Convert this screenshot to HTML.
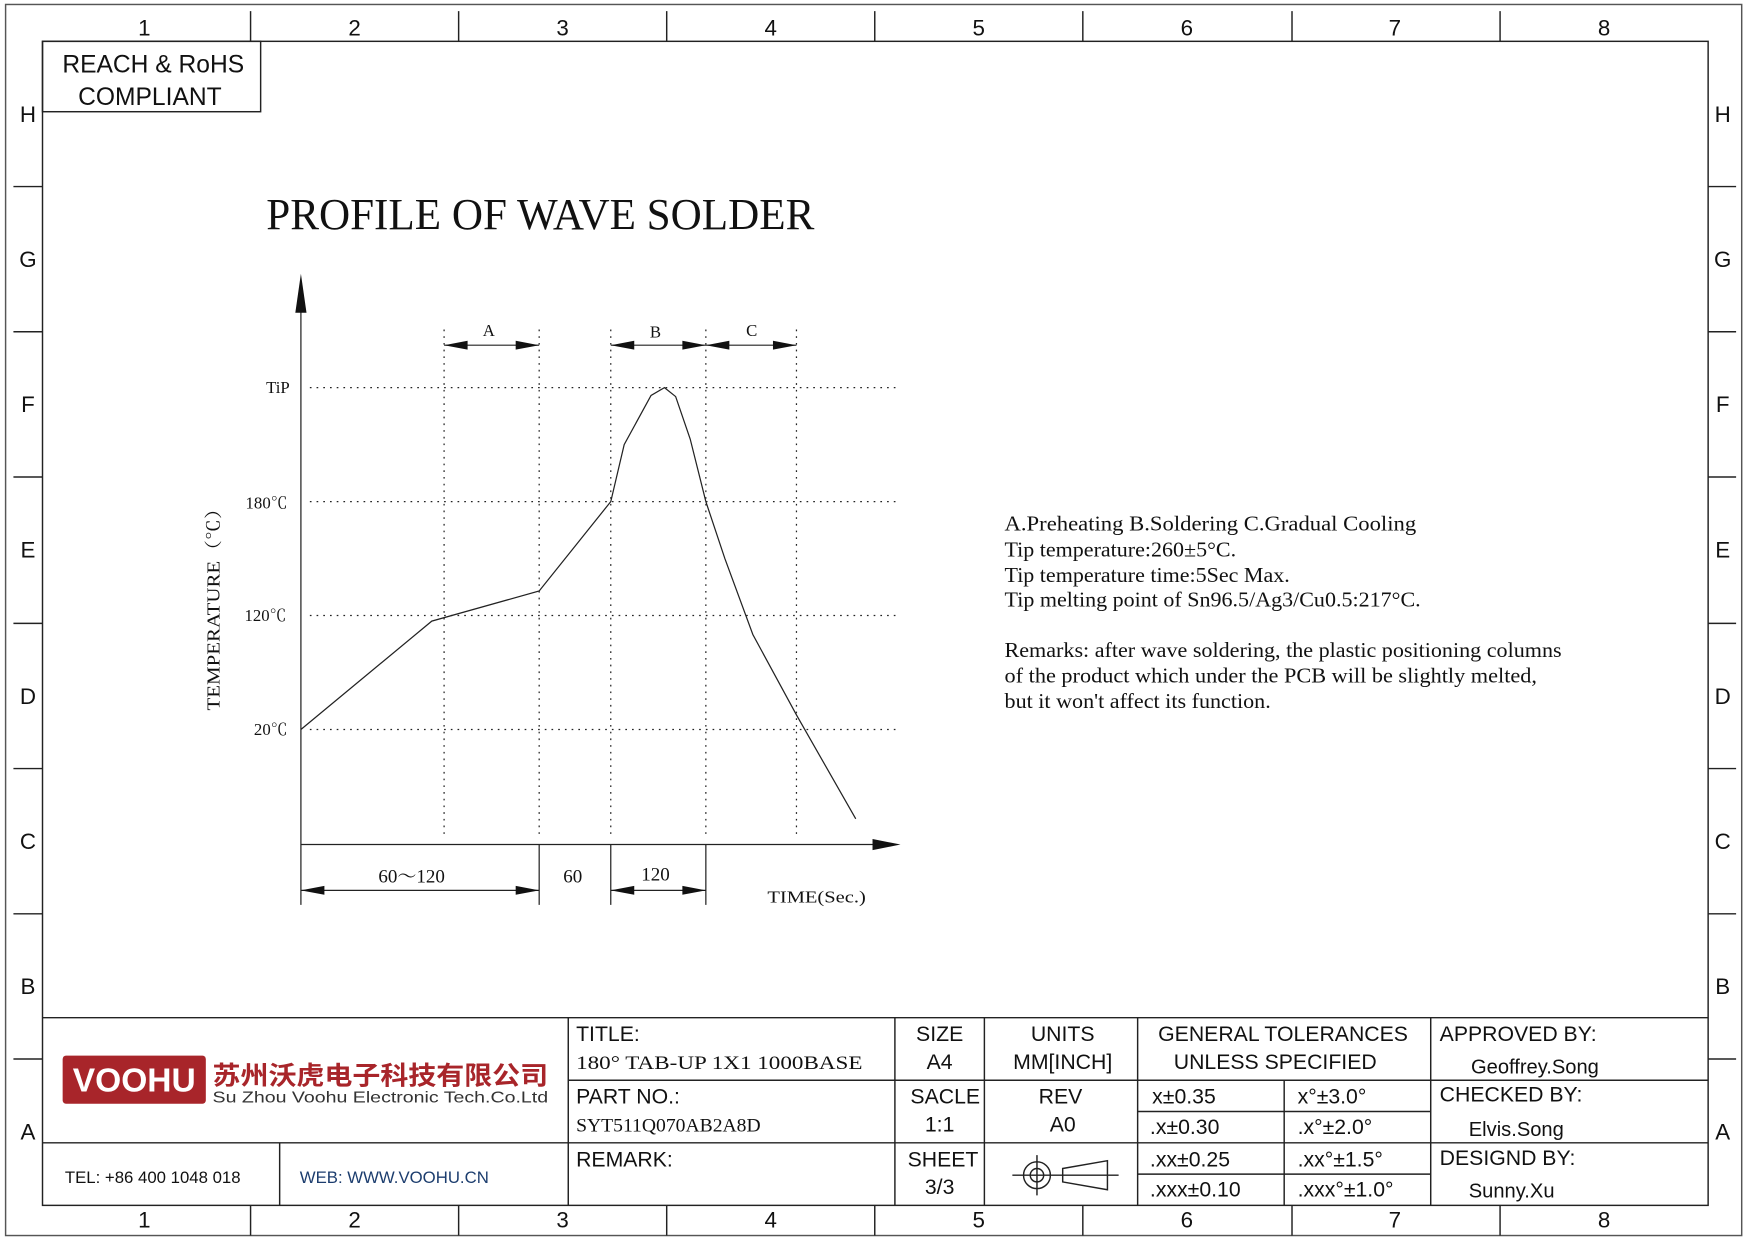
<!DOCTYPE html>
<html><head><meta charset="utf-8"><style>
html,body{margin:0;padding:0;background:#fff;}
svg{display:block;}
.s{font-family:"Liberation Sans","Noto Sans CJK SC",sans-serif;}
.r{font-family:"Liberation Serif","Noto Serif CJK SC",serif;}
</style></head><body>
<svg width="1754" height="1240" viewBox="0 0 1568 1110" preserveAspectRatio="none" xmlns="http://www.w3.org/2000/svg">
<rect x="0" y="0" width="1568" height="1110" fill="#fff"/>
<g fill="none" stroke="#222" stroke-width="1.3">
<rect x="5" y="4" width="1552" height="1102" stroke="#555"/>
<rect x="38" y="37" width="1489" height="1042"/>
<path d="M224 10V37M410 10V37M596 10V37M782 10V37M968 10V37M1155 10V37M1341 10V37"/>
<path d="M224 1079V1106M410 1079V1106M596 1079V1106M782 1079V1106M968 1079V1106M1155 1079V1106M1341 1079V1106"/>
<path d="M12 167H38M12 297H38M12 427H38M12 558H38M12 688H38M12 818H38M12 948H38"/>
<path d="M1527 167H1552M1527 297H1552M1527 427H1552M1527 558H1552M1527 688H1552M1527 818H1552M1527 948H1552"/>
<rect x="38" y="37" width="195" height="63"/>
</g>
<g class="s" font-size="20" fill="#111" text-anchor="middle">
<text x="129" y="32">1</text><text x="317" y="32">2</text><text x="503" y="32">3</text><text x="689" y="32">4</text><text x="875" y="32">5</text><text x="1061" y="32">6</text><text x="1247" y="32">7</text><text x="1434" y="32">8</text>
<text x="129" y="1099">1</text><text x="317" y="1099">2</text><text x="503" y="1099">3</text><text x="689" y="1099">4</text><text x="875" y="1099">5</text><text x="1061" y="1099">6</text><text x="1247" y="1099">7</text><text x="1434" y="1099">8</text>
<text x="25" y="109">H</text><text x="25" y="239">G</text><text x="25" y="369">F</text><text x="25" y="499">E</text><text x="25" y="630">D</text><text x="25" y="760">C</text><text x="25" y="890">B</text><text x="25" y="1020">A</text>
<text x="1540" y="109">H</text><text x="1540" y="239">G</text><text x="1540" y="369">F</text><text x="1540" y="499">E</text><text x="1540" y="630">D</text><text x="1540" y="760">C</text><text x="1540" y="890">B</text><text x="1540" y="1020">A</text>
<text x="137" y="65" font-size="22">REACH &amp; RoHS</text>
<text x="134" y="94" font-size="22">COMPLIANT</text>
</g>
<text x="238" y="205" class="r" font-size="40" fill="#111" textLength="490" lengthAdjust="spacingAndGlyphs">PROFILE OF WAVE SOLDER</text>
<g stroke="#222" fill="none" stroke-width="1.1">
<path d="M269 810V255M269 756H790"/>
<g stroke-dasharray="1.5 4.5">
<path d="M277 347H805M277 449H805M277 551H805M277 653H805"/>
<path d="M397 295V748M482 295V748M546 295V748M631 295V748M712 295V748"/>
</g>
<polyline points="269,653 386,556 482,529 546,449 558,398 582,354 594,347 604,355 617,393 631,449 648,500 673,568 712,640 765,733"/>
<path d="M397 309H482M546 309H712M482 756V810M546 756V810M631 756V810M269 797H482M546 797H631"/>
</g>
<g fill="#111">
<path d="M264 280L269 245L274 280Z"/>
<path d="M780 751L805 756L780 761Z"/>
<path d="M397 309L418 305V313Z"/><path d="M482 309L461 305V313Z"/>
<path d="M546 309L567 305V313Z"/><path d="M631 309L610 305V313Z"/>
<path d="M631 309L652 305V313Z"/><path d="M712 309L691 305V313Z"/>
<path d="M269 797L290 793V801Z"/><path d="M482 797L461 793V801Z"/>
<path d="M546 797L567 793V801Z"/><path d="M631 797L610 793V801Z"/>
</g>
<g class="r" font-size="15" fill="#111">
<text x="437" y="301" text-anchor="middle">A</text>
<text x="586" y="302" text-anchor="middle">B</text>
<text x="672" y="301" text-anchor="middle">C</text>
<text x="259" y="352" text-anchor="end">TiP</text>
<text x="257" y="455" text-anchor="end">180℃</text>
<text x="256" y="556" text-anchor="end">120℃</text>
<text x="257" y="658" text-anchor="end">20℃</text>
<text x="368" y="790" text-anchor="middle" font-size="17">60～120</text>
<text x="512" y="790" text-anchor="middle" font-size="17">60</text>
<text x="586" y="788" text-anchor="middle" font-size="17">120</text>
<text x="686" y="808" font-size="15" textLength="88" lengthAdjust="spacingAndGlyphs">TIME(Sec.)</text>
<text transform="translate(196,541) rotate(-90)" text-anchor="middle" font-size="16" textLength="190" lengthAdjust="spacingAndGlyphs">TEMPERATURE（℃）</text>
</g>
<g class="r" font-size="18.5" fill="#111">
<text x="898" y="475" textLength="368" lengthAdjust="spacingAndGlyphs">A.Preheating  B.Soldering  C.Gradual Cooling</text>
<text x="898" y="498" textLength="207" lengthAdjust="spacingAndGlyphs">Tip temperature:260±5°C.</text>
<text x="898" y="521" textLength="255" lengthAdjust="spacingAndGlyphs">Tip temperature time:5Sec Max.</text>
<text x="898" y="543" textLength="372" lengthAdjust="spacingAndGlyphs">Tip melting point of Sn96.5/Ag3/Cu0.5:217°C.</text>
<text x="898" y="588" textLength="498" lengthAdjust="spacingAndGlyphs">Remarks: after wave soldering, the plastic positioning columns</text>
<text x="898" y="611" textLength="476" lengthAdjust="spacingAndGlyphs">of the product  which under the PCB will be slightly melted,</text>
<text x="898" y="634" textLength="238" lengthAdjust="spacingAndGlyphs">but it won't affect its function.</text>
</g>
<g fill="none" stroke="#222" stroke-width="1.3">
<path d="M38 911H1527M508 911V1079M800 911V1079M880 911V1079M1017 911V1079M1279 911V1079"/>
<path d="M508 967H1527M38 1023H1527M1017 995H1279M1017 1051H1279M1148 967V1079M250 1023V1079"/>
<circle cx="927" cy="1052" r="12"/><circle cx="927" cy="1052" r="6"/>
<path d="M905 1052H1000M927 1034V1070M950 1046L990 1039V1065L950 1058Z"/>
</g>
<rect x="56" y="945" width="128" height="43" rx="3" fill="#a8252a"/>
<text x="120" y="977" text-anchor="middle" class="s" font-size="30" font-weight="bold" fill="#fff">VOOHU</text>
<text x="190" y="971" class="s" font-size="23" font-weight="bold" fill="#a8252a" textLength="300" lengthAdjust="spacingAndGlyphs">苏州沃虎电子科技有限公司</text>
<text x="190" y="987" class="s" font-size="14" fill="#333" textLength="300" lengthAdjust="spacingAndGlyphs">Su Zhou Voohu Electronic Tech.Co.Ltd</text>
<g class="s" font-size="19" fill="#111">
<text x="58" y="1059" font-size="15">TEL: +86 400 1048 018</text>
<text x="268" y="1059" font-size="15" fill="#1c3d6e">WEB: WWW.VOOHU.CN</text>
<text x="515" y="932">TITLE:</text>
<text x="515" y="957" class="r" font-size="17" textLength="256" lengthAdjust="spacingAndGlyphs">180° TAB-UP 1X1 1000BASE</text>
<text x="515" y="988">PART NO.:</text>
<text x="515" y="1013" class="r" font-size="17" textLength="165" lengthAdjust="spacingAndGlyphs">SYT511Q070AB2A8D</text>
<text x="515" y="1044">REMARK:</text>
<g text-anchor="middle">
<text x="840" y="932">SIZE</text><text x="840" y="957">A4</text>
<text x="845" y="988">SACLE</text><text x="840" y="1013">1:1</text>
<text x="843" y="1044">SHEET</text><text x="840" y="1069">3/3</text>
<text x="950" y="932">UNITS</text><text x="950" y="957">MM[INCH]</text>
<text x="948" y="988">REV</text><text x="950" y="1013">A0</text>
<text x="1147" y="932">GENERAL TOLERANCES</text>
<text x="1140" y="957">UNLESS SPECIFIED</text>
</g>
<text x="1030" y="988">x±0.35</text><text x="1160" y="988">x°±3.0°</text>
<text x="1028" y="1015">.x±0.30</text><text x="1160" y="1015">.x°±2.0°</text>
<text x="1028" y="1044">.xx±0.25</text><text x="1160" y="1044">.xx°±1.5°</text>
<text x="1028" y="1071">.xxx±0.10</text><text x="1160" y="1071">.xxx°±1.0°</text>
<text x="1287" y="932">APPROVED BY:</text>
<text x="1315" y="961" font-size="18">Geoffrey.Song</text>
<text x="1287" y="986">CHECKED BY:</text>
<text x="1313" y="1017" font-size="18">Elvis.Song</text>
<text x="1287" y="1043">DESIGND BY:</text>
<text x="1313" y="1072" font-size="18">Sunny.Xu</text>
</g>
</svg>
</body></html>
